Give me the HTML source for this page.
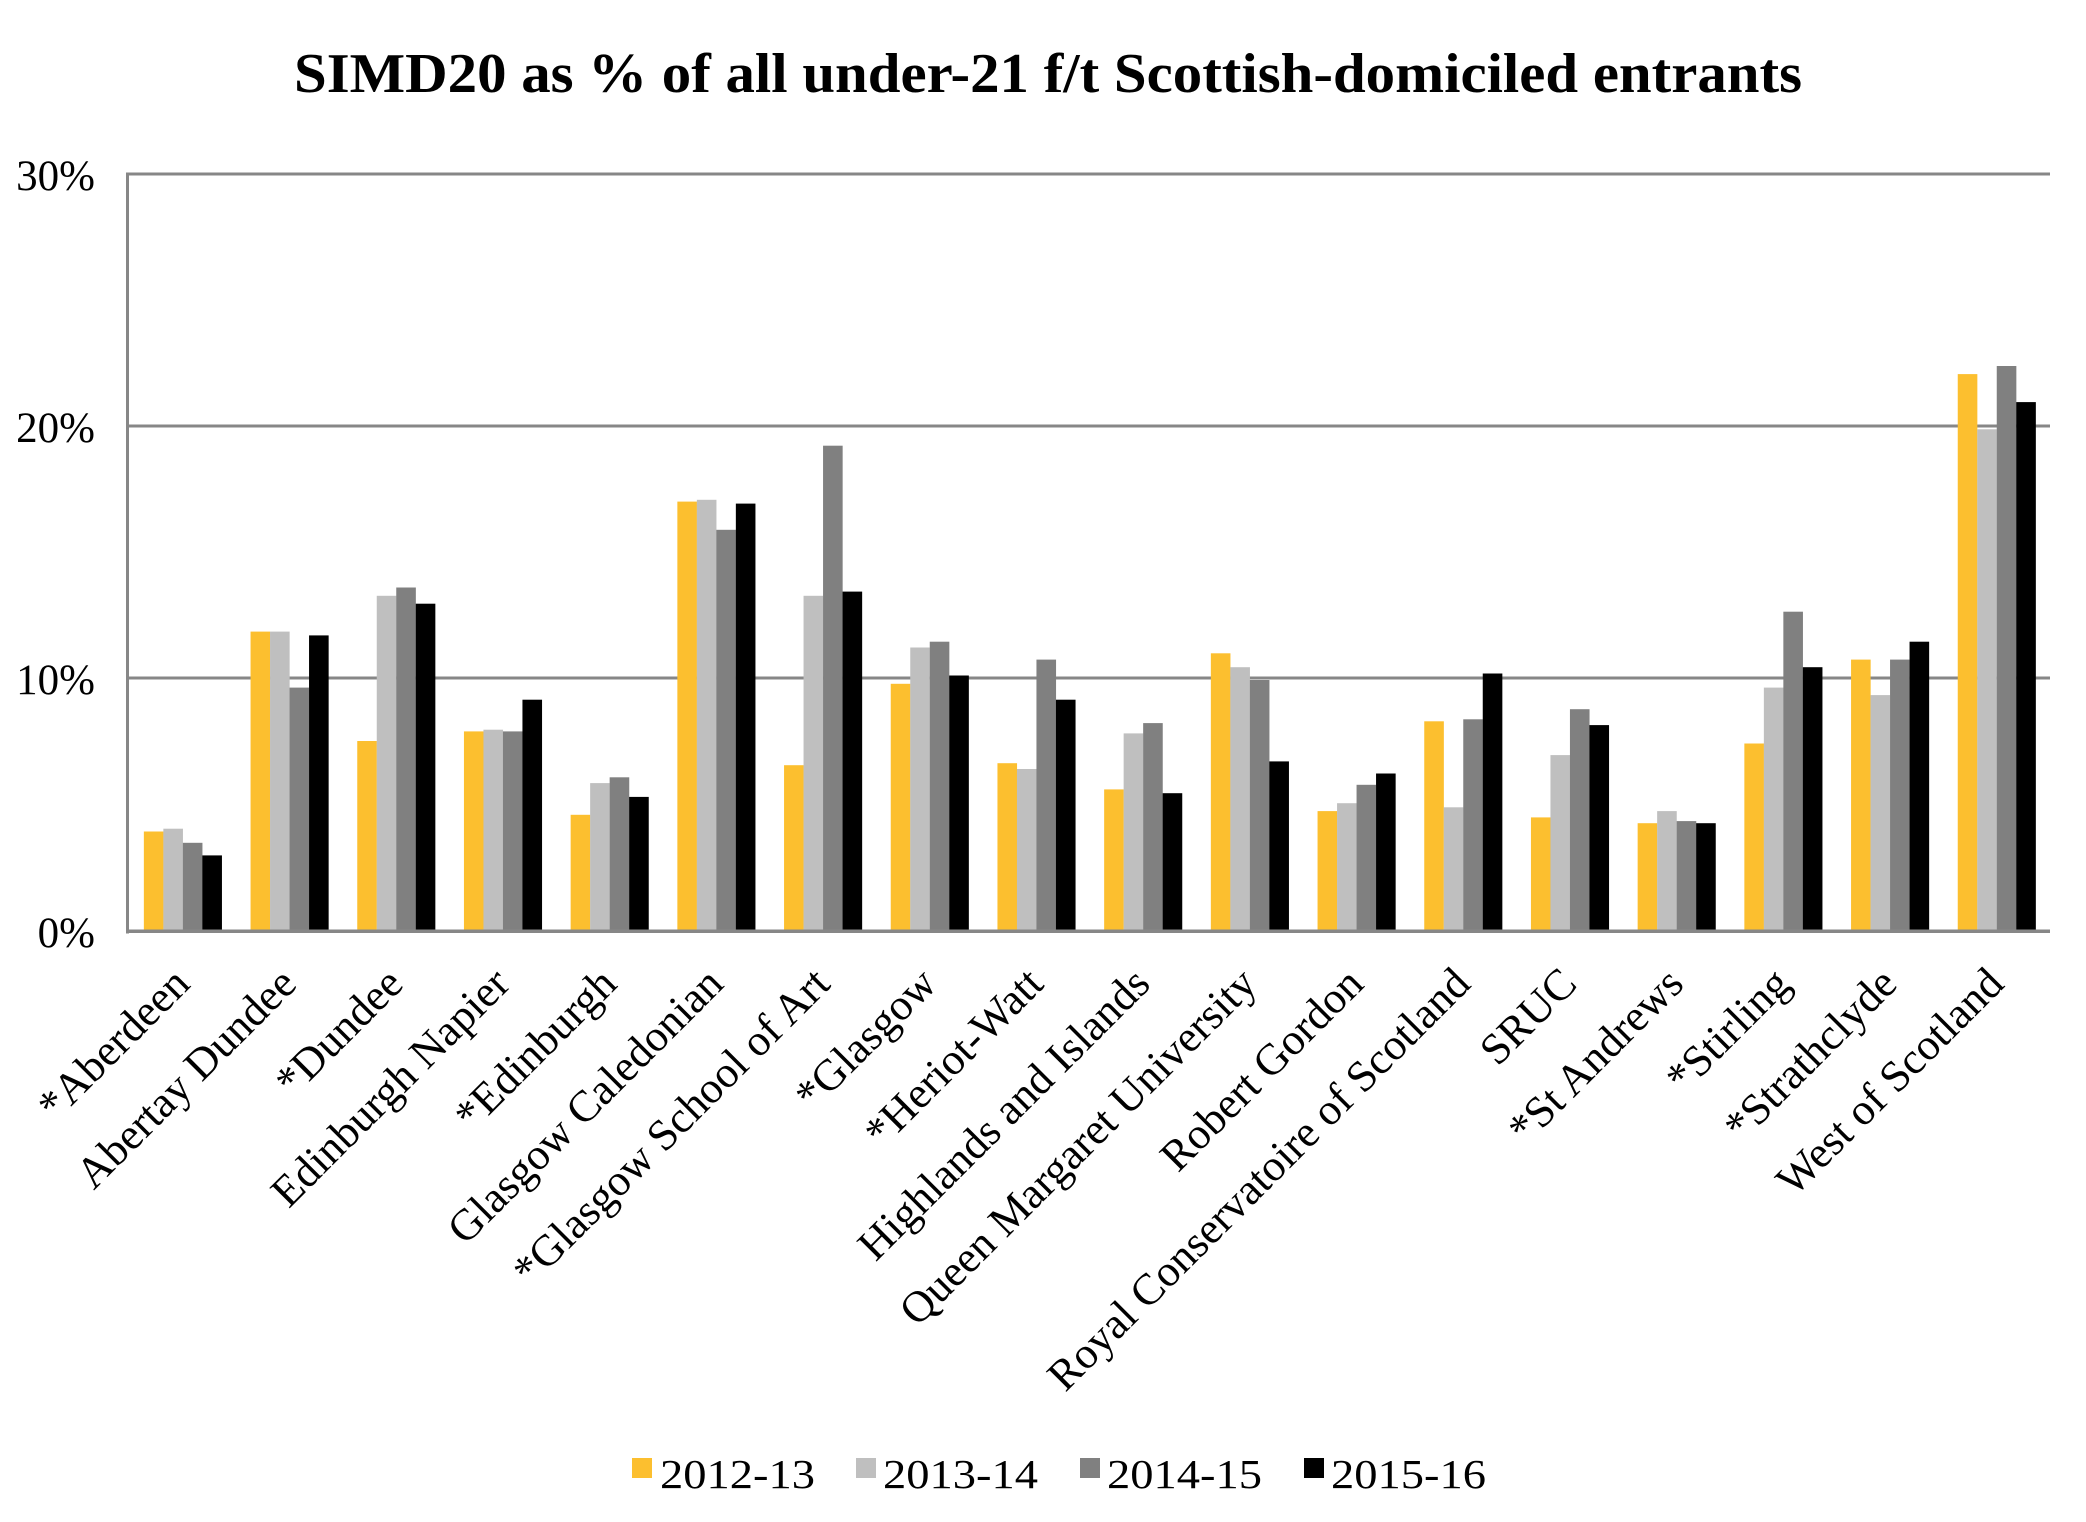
<!DOCTYPE html>
<html>
<head>
<meta charset="utf-8">
<style>
  html, body { margin: 0; padding: 0; background: #ffffff; }
  svg { display: block; }
  text { font-family: "Liberation Serif", "DejaVu Serif", serif; fill: #000; }
</style>
</head>
<body>
<svg width="2086" height="1522" viewBox="0 0 2086 1522" xmlns="http://www.w3.org/2000/svg">
  <rect x="0" y="0" width="2086" height="1522" fill="#ffffff"/>

  <!-- Title -->
  <text x="294" y="92" font-size="56" font-weight="bold" textLength="1508" lengthAdjust="spacingAndGlyphs">SIMD20 as % of all under-21 f/t Scottish-domiciled entrants</text>

  <!-- Gridlines -->
  <rect x="126" y="172.5" width="1924" height="3" fill="#878787"/>
  <rect x="126" y="424.5" width="1924" height="3" fill="#878787"/>
  <rect x="126" y="676.5" width="1924" height="3" fill="#878787"/>
  <!-- Y axis -->
  <rect x="126" y="172.5" width="3" height="761" fill="#878787"/>

  <!-- Y tick labels -->
  <g font-size="43" text-anchor="end">
    <text x="95" y="190">30%</text>
    <text x="95" y="442">20%</text>
    <text x="95" y="694">10%</text>
    <text x="95" y="947">0%</text>
  </g>

  <!-- Bars -->
  <g id="bars">
    <g transform="translate(143.85,0)">
      <rect x="0" y="831.5" width="19.6" height="98.5" fill="#FCBF2F"/>
      <rect x="19.5" y="828.7" width="19.6" height="101.3" fill="#BFBFBF"/>
      <rect x="39" y="842.8" width="19.6" height="87.2" fill="#808080"/>
      <rect x="58.5" y="855.4" width="19.6" height="74.6" fill="#000000"/>
    </g>
    <g transform="translate(250.55,0)">
      <rect x="0" y="631.6" width="19.6" height="298.4" fill="#FCBF2F"/>
      <rect x="19.5" y="631.6" width="19.6" height="298.4" fill="#BFBFBF"/>
      <rect x="39" y="687.6" width="19.6" height="242.4" fill="#808080"/>
      <rect x="58.5" y="635.4" width="19.6" height="294.6" fill="#000000"/>
    </g>
    <g transform="translate(357.25,0)">
      <rect x="0" y="741" width="19.6" height="189" fill="#FCBF2F"/>
      <rect x="19.5" y="595.8" width="19.6" height="334.2" fill="#BFBFBF"/>
      <rect x="39" y="587.5" width="19.6" height="342.5" fill="#808080"/>
      <rect x="58.5" y="603.7" width="19.6" height="326.3" fill="#000000"/>
    </g>
    <g transform="translate(463.95,0)">
      <rect x="0" y="731.4" width="19.6" height="198.6" fill="#FCBF2F"/>
      <rect x="19.5" y="729.7" width="19.6" height="200.3" fill="#BFBFBF"/>
      <rect x="39" y="731.4" width="19.6" height="198.6" fill="#808080"/>
      <rect x="58.5" y="699.7" width="19.6" height="230.3" fill="#000000"/>
    </g>
    <g transform="translate(570.65,0)">
      <rect x="0" y="814.8" width="19.6" height="115.2" fill="#FCBF2F"/>
      <rect x="19.5" y="783.1" width="19.6" height="146.9" fill="#BFBFBF"/>
      <rect x="39" y="777.3" width="19.6" height="152.7" fill="#808080"/>
      <rect x="58.5" y="796.9" width="19.6" height="133.1" fill="#000000"/>
    </g>
    <g transform="translate(677.35,0)">
      <rect x="0" y="501.6" width="19.6" height="428.4" fill="#FCBF2F"/>
      <rect x="19.5" y="499.8" width="19.6" height="430.2" fill="#BFBFBF"/>
      <rect x="39" y="529.8" width="19.6" height="400.2" fill="#808080"/>
      <rect x="58.5" y="503.6" width="19.6" height="426.4" fill="#000000"/>
    </g>
    <g transform="translate(784.05,0)">
      <rect x="0" y="765.2" width="19.6" height="164.8" fill="#FCBF2F"/>
      <rect x="19.5" y="595.8" width="19.6" height="334.2" fill="#BFBFBF"/>
      <rect x="39" y="445.7" width="19.6" height="484.3" fill="#808080"/>
      <rect x="58.5" y="591.6" width="19.6" height="338.4" fill="#000000"/>
    </g>
    <g transform="translate(890.75,0)">
      <rect x="0" y="683.8" width="19.6" height="246.2" fill="#FCBF2F"/>
      <rect x="19.5" y="647.5" width="19.6" height="282.5" fill="#BFBFBF"/>
      <rect x="39" y="641.7" width="19.6" height="288.3" fill="#808080"/>
      <rect x="58.5" y="675.5" width="19.6" height="254.5" fill="#000000"/>
    </g>
    <g transform="translate(997.45,0)">
      <rect x="0" y="763.2" width="19.6" height="166.8" fill="#FCBF2F"/>
      <rect x="19.5" y="769" width="19.6" height="161" fill="#BFBFBF"/>
      <rect x="39" y="659.6" width="19.6" height="270.4" fill="#808080"/>
      <rect x="58.5" y="699.7" width="19.6" height="230.3" fill="#000000"/>
    </g>
    <g transform="translate(1104.15,0)">
      <rect x="0" y="789.4" width="19.6" height="140.6" fill="#FCBF2F"/>
      <rect x="19.5" y="733.4" width="19.6" height="196.6" fill="#BFBFBF"/>
      <rect x="39" y="723.1" width="19.6" height="206.9" fill="#808080"/>
      <rect x="58.5" y="793.2" width="19.6" height="136.8" fill="#000000"/>
    </g>
    <g transform="translate(1210.85,0)">
      <rect x="0" y="653.3" width="19.6" height="276.7" fill="#FCBF2F"/>
      <rect x="19.5" y="667.2" width="19.6" height="262.8" fill="#BFBFBF"/>
      <rect x="39" y="680" width="19.6" height="250" fill="#808080"/>
      <rect x="58.5" y="761.4" width="19.6" height="168.6" fill="#000000"/>
    </g>
    <g transform="translate(1317.55,0)">
      <rect x="0" y="811.1" width="19.6" height="118.9" fill="#FCBF2F"/>
      <rect x="19.5" y="803.2" width="19.6" height="126.8" fill="#BFBFBF"/>
      <rect x="39" y="784.8" width="19.6" height="145.2" fill="#808080"/>
      <rect x="58.5" y="773.5" width="19.6" height="156.5" fill="#000000"/>
    </g>
    <g transform="translate(1424.25,0)">
      <rect x="0" y="721.3" width="19.6" height="208.7" fill="#FCBF2F"/>
      <rect x="19.5" y="807.3" width="19.6" height="122.7" fill="#BFBFBF"/>
      <rect x="39" y="719.3" width="19.6" height="210.7" fill="#808080"/>
      <rect x="58.5" y="673.5" width="19.6" height="256.5" fill="#000000"/>
    </g>
    <g transform="translate(1530.95,0)">
      <rect x="0" y="817.4" width="19.6" height="112.6" fill="#FCBF2F"/>
      <rect x="19.5" y="755.1" width="19.6" height="174.9" fill="#BFBFBF"/>
      <rect x="39" y="709.2" width="19.6" height="220.8" fill="#808080"/>
      <rect x="58.5" y="725.1" width="19.6" height="204.9" fill="#000000"/>
    </g>
    <g transform="translate(1637.65,0)">
      <rect x="0" y="823.2" width="19.6" height="106.8" fill="#FCBF2F"/>
      <rect x="19.5" y="811.1" width="19.6" height="118.9" fill="#BFBFBF"/>
      <rect x="39" y="821.1" width="19.6" height="108.9" fill="#808080"/>
      <rect x="58.5" y="823.2" width="19.6" height="106.8" fill="#000000"/>
    </g>
    <g transform="translate(1744.35,0)">
      <rect x="0" y="743.5" width="19.6" height="186.5" fill="#FCBF2F"/>
      <rect x="19.5" y="687.6" width="19.6" height="242.4" fill="#BFBFBF"/>
      <rect x="39" y="611.7" width="19.6" height="318.3" fill="#808080"/>
      <rect x="58.5" y="667.2" width="19.6" height="262.8" fill="#000000"/>
    </g>
    <g transform="translate(1851.05,0)">
      <rect x="0" y="659.6" width="19.6" height="270.4" fill="#FCBF2F"/>
      <rect x="19.5" y="695.1" width="19.6" height="234.9" fill="#BFBFBF"/>
      <rect x="39" y="659.6" width="19.6" height="270.4" fill="#808080"/>
      <rect x="58.5" y="641.7" width="19.6" height="288.3" fill="#000000"/>
    </g>
    <g transform="translate(1957.75,0)">
      <rect x="0" y="374.1" width="19.6" height="555.9" fill="#FCBF2F"/>
      <rect x="19.5" y="429.3" width="19.6" height="500.7" fill="#BFBFBF"/>
      <rect x="39" y="366" width="19.6" height="564" fill="#808080"/>
      <rect x="58.5" y="402.1" width="19.6" height="527.9" fill="#000000"/>
    </g>
  </g>

  <!-- X axis baseline -->
  <rect x="126" y="929.5" width="1924" height="3.5" fill="#878787"/>

  <!-- Category labels -->
  <g font-size="44" text-anchor="end">
    <text x="191.85" y="986" transform="rotate(-45 191.85 986)">*Aberdeen</text>
    <text x="298.55" y="986" transform="rotate(-45 298.55 986)">Abertay Dundee</text>
    <text x="405.25" y="986" transform="rotate(-45 405.25 986)">*Dundee</text>
    <text x="511.95" y="986" transform="rotate(-45 511.95 986)">Edinburgh Napier</text>
    <text x="618.65" y="986" transform="rotate(-45 618.65 986)">*Edinburgh</text>
    <text x="725.35" y="986" transform="rotate(-45 725.35 986)">Glasgow Caledonian</text>
    <text x="832.05" y="986" transform="rotate(-45 832.05 986)">*Glasgow School of Art</text>
    <text x="938.75" y="986" transform="rotate(-45 938.75 986)">*Glasgow</text>
    <text x="1045.45" y="986" transform="rotate(-45 1045.45 986)">*Heriot-Watt</text>
    <text x="1152.15" y="986" transform="rotate(-45 1152.15 986)">Highlands and Islands</text>
    <text x="1258.85" y="986" transform="rotate(-45 1258.85 986)">Queen Margaret University</text>
    <text x="1365.55" y="986" transform="rotate(-45 1365.55 986)">Robert Gordon</text>
    <text x="1472.25" y="986" transform="rotate(-45 1472.25 986)">Royal Conservatoire of Scotland</text>
    <text x="1578.95" y="986" transform="rotate(-45 1578.95 986)">SRUC</text>
    <text x="1685.65" y="986" transform="rotate(-45 1685.65 986)">*St Andrews</text>
    <text x="1792.35" y="986" transform="rotate(-45 1792.35 986)">*Stirling</text>
    <text x="1899.05" y="986" transform="rotate(-45 1899.05 986)">*Strathclyde</text>
    <text x="2005.75" y="986" transform="rotate(-45 2005.75 986)">West of Scotland</text>
  </g>

  <!-- Legend -->
  <g font-size="41">
    <rect x="632" y="1458" width="20" height="20" fill="#FCBF2F"/>
    <text x="660" y="1488" textLength="155" lengthAdjust="spacingAndGlyphs">2012-13</text>
    <rect x="856" y="1458" width="20" height="20" fill="#BFBFBF"/>
    <text x="883" y="1488" textLength="155" lengthAdjust="spacingAndGlyphs">2013-14</text>
    <rect x="1080" y="1458" width="20" height="20" fill="#808080"/>
    <text x="1107" y="1488" textLength="155" lengthAdjust="spacingAndGlyphs">2014-15</text>
    <rect x="1304" y="1458" width="20" height="20" fill="#000000"/>
    <text x="1331" y="1488" textLength="155" lengthAdjust="spacingAndGlyphs">2015-16</text>
  </g>
</svg>
</body>
</html>
